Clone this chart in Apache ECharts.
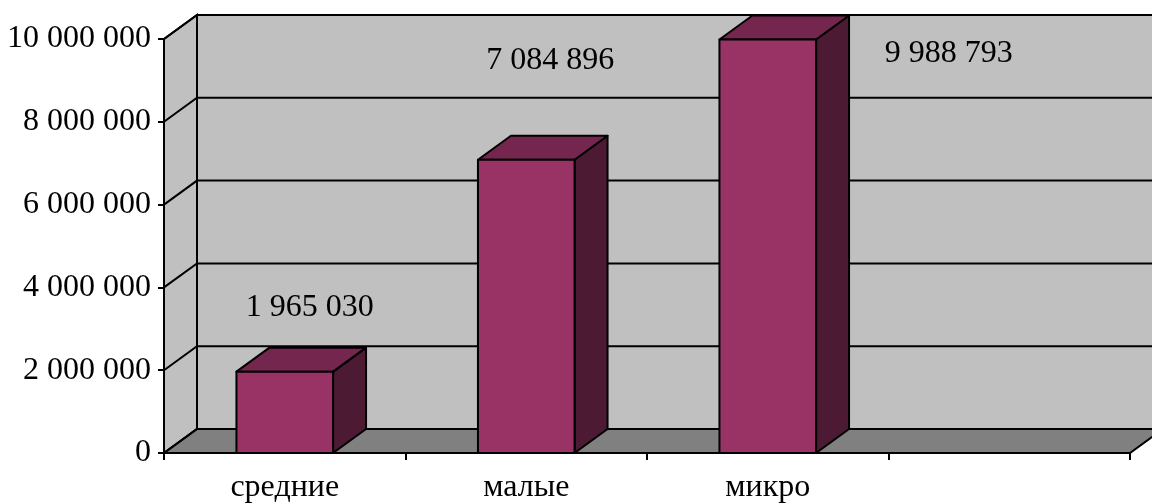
<!DOCTYPE html>
<html>
<head>
<meta charset="utf-8">
<script src="https://cdn.jsdelivr.net/npm/echarts@6/dist/echarts.min.js"></script>
<style>
  html, body { margin: 0; padding: 0; background: #ffffff; }
  #chart { width: 1152px; height: 504px; }
</style>
</head>
<body>
<div id="chart"></div>
<script>
// Предприятия по размеру
const categories = ['средние', 'малые', 'микро', ''];
const values = [1965030, 7084896, 9988793];
const yTicks = [0, 2000000, 4000000, 6000000, 8000000, 10000000];

// 3D look: depth offset of walls and bars
const DEPTH_X = 33;
const DEPTH_Y = -24;
const FONT = '"Liberation Serif", "Times New Roman", serif';
const FONT_SIZE = 32;
// label placement relative to the top front centre of each bar
const labelShift = [[25, -64], [24, -99], [181, 14]];

function fmt(v) {
  return String(v).replace(/\B(?=(\d{3})+(?!\d))/g, ' ');
}

const chart = echarts.init(document.getElementById('chart'), null, { renderer: 'canvas' });

function renderWalls(params, api) {
  const cs = params.coordSys;
  const x0 = cs.x, x1 = cs.x + cs.width;
  const yBase = api.coord([0, 0])[1];
  const yTop = api.coord([0, yTicks[yTicks.length - 1]])[1];
  const children = [];
  const edge = { stroke: '#000', lineWidth: 2 };
  // back wall
  children.push({ type: 'polygon', shape: { points: [
    [x0 + DEPTH_X, yTop + DEPTH_Y], [x1 + DEPTH_X, yTop + DEPTH_Y],
    [x1 + DEPTH_X, yBase + DEPTH_Y], [x0 + DEPTH_X, yBase + DEPTH_Y]] },
    style: { fill: '#c0c0c0', stroke: '#000', lineWidth: 2 } });
  // side wall
  children.push({ type: 'polygon', shape: { points: [
    [x0, yBase], [x0 + DEPTH_X, yBase + DEPTH_Y],
    [x0 + DEPTH_X, yTop + DEPTH_Y], [x0, yTop]] },
    style: { fill: '#c0c0c0', stroke: '#000', lineWidth: 2 } });
  // floor
  children.push({ type: 'polygon', shape: { points: [
    [x0, yBase], [x0 + DEPTH_X, yBase + DEPTH_Y],
    [x1 + DEPTH_X, yBase + DEPTH_Y], [x1, yBase]] },
    style: { fill: '#808080', stroke: '#000', lineWidth: 2 } });
  // gridlines across side and back walls
  yTicks.forEach(function (t) {
    const y = api.coord([0, t])[1];
    children.push({ type: 'polyline', shape: { points: [
      [x0, y], [x0 + DEPTH_X, y + DEPTH_Y], [x1 + DEPTH_X, y + DEPTH_Y]] },
      style: Object.assign({ fill: null }, edge) });
  });
  return { type: 'group', children: children };
}

function renderBar(params, api) {
  const idx = api.value(0);
  const val = api.value(1);
  const top = api.coord([idx, val]);
  const base = api.coord([idx, 0]);
  const band = api.size([1, 0])[0];
  const w = band * 0.4;
  const xl = top[0] - w / 2, xr = top[0] + w / 2;
  const yt = top[1], yb = base[1];
  const line = { stroke: '#000', lineWidth: 2, lineJoin: 'round' };
  const shift = labelShift[params.dataIndex] || [0, -40];
  return {
    type: 'group',
    children: [
      { type: 'polygon', shape: { points: [[xr, yt], [xr + DEPTH_X, yt + DEPTH_Y], [xr + DEPTH_X, yb + DEPTH_Y], [xr, yb]] },
        style: Object.assign({ fill: '#4c1a33' }, line) },
      { type: 'polygon', shape: { points: [[xl, yt], [xl + DEPTH_X, yt + DEPTH_Y], [xr + DEPTH_X, yt + DEPTH_Y], [xr, yt]] },
        style: Object.assign({ fill: '#74264f' }, line) },
      { type: 'rect', shape: { x: xl, y: yt, width: w, height: yb - yt },
        style: Object.assign({ fill: '#993366' }, line) },
      { type: 'text', x: top[0] + shift[0], y: yt + shift[1],
        style: { text: fmt(val), fill: '#000', font: FONT_SIZE + 'px ' + FONT, align: 'center', verticalAlign: 'middle' } }
    ]
  };
}

chart.setOption({
  animation: false,
  backgroundColor: '#ffffff',
  grid: { left: 164, right: 22, top: 39, bottom: 51, containLabel: false, outerBoundsMode: 'none' },
  xAxis: {
    type: 'category',
    data: categories,
    boundaryGap: true,
    axisLine: { show: false },
    axisTick: { show: true, length: 7, lineStyle: { color: '#000', width: 2 } },
    axisLabel: { color: '#000', fontFamily: FONT, fontSize: FONT_SIZE, margin: 19 },
    splitLine: { show: false }
  },
  yAxis: {
    type: 'value',
    min: 0,
    max: 10000000,
    interval: 2000000,
    axisLine: { show: true, lineStyle: { color: '#000', width: 2 } },
    axisTick: { show: true, length: 6, lineStyle: { color: '#000', width: 2 } },
    axisLabel: { color: '#000', fontFamily: FONT, fontSize: FONT_SIZE, margin: 13, padding: [4, 0, 0, 0], formatter: fmt },
    splitLine: { show: false }
  },
  series: [
    { type: 'custom', name: 'walls', z: 1, silent: true, clip: false,
      data: [[0, 0]], renderItem: renderWalls },
    { type: 'custom', name: 'values', z: 3, clip: false,
      encode: { x: 0, y: 1 },
      data: values.map(function (v, i) { return [i, v]; }),
      renderItem: renderBar }
  ]
});
</script>
</body>
</html>
